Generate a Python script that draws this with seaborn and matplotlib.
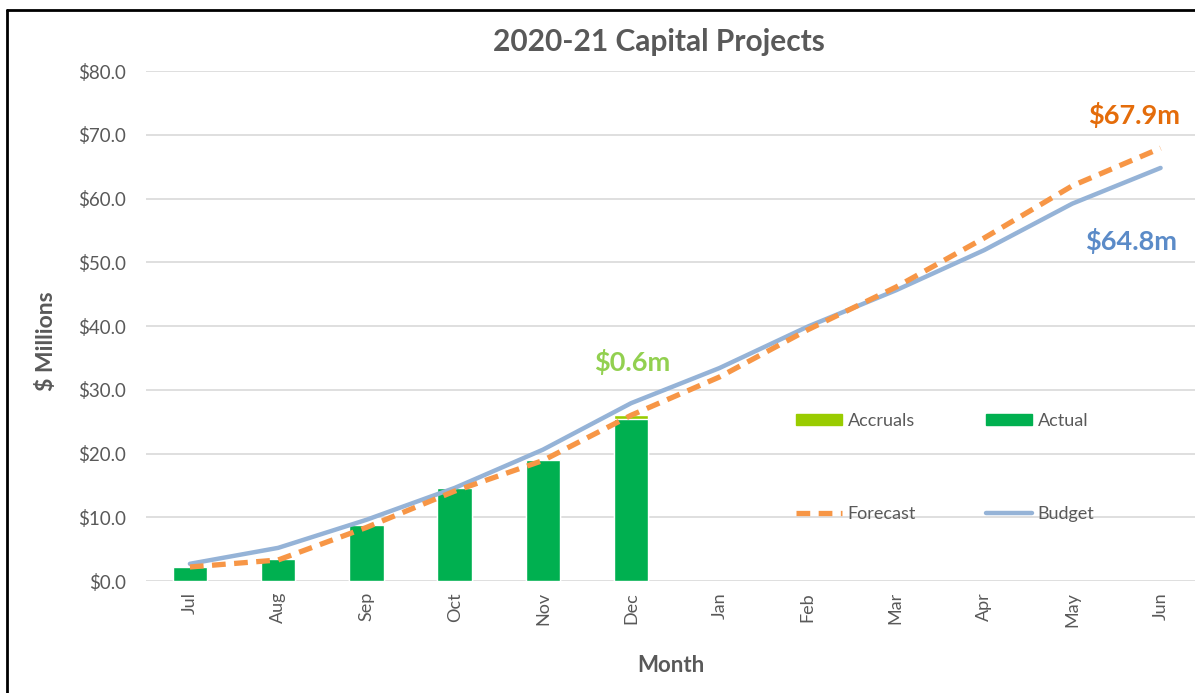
import numpy as np
import pandas as pd
import seaborn as sns
import matplotlib.pyplot as plt
from matplotlib.lines import Line2D
from matplotlib.patches import Patch
from matplotlib.ticker import FuncFormatter

# datos
meses = ['Jul', 'Aug', 'Sep', 'Oct', 'Nov', 'Dec', 'Jan', 'Feb', 'Mar', 'Apr', 'May', 'Jun']
meses_real = ['Jul', 'Aug', 'Sep', 'Oct', 'Nov', 'Dec']
actual = [2.2, 3.5, 8.8, 14.6, 19.0, 25.4]
accruals = [0.0, 0.0, 0.0, 0.0, 0.0, 0.6]
forecast = [2.2, 3.3, 8.4, 14.1, 18.9, 26.0, 32.0, 39.4, 46.1, 53.8, 62.0, 67.9]
budget = [2.7, 5.2, 9.6, 14.6, 20.6, 27.9, 33.4, 39.9, 45.6, 51.9, 59.2, 64.8]

gris = '#595959'
verde = '#00B050'
verde_acc = '#99CC00'
naranja = '#F79646'
azul = '#95B3D7'

sns.set_style("white")
plt.rcParams['font.family'] = ['Lato', 'DejaVu Sans']

df_real = pd.DataFrame({'Mes': meses_real, 'Actual': actual,
                        'Total': np.array(actual) + np.array(accruals)})
df_lineas = pd.DataFrame({'pos': np.arange(len(meses)), 'Forecast': forecast, 'Budget': budget})

fig = plt.figure(figsize=(11.95, 6.93), dpi=100)
ax = fig.add_axes([0.122, 0.1616, 0.878, 0.7359])

# barras apiladas: total (accruals arriba) y luego actual encima
sns.barplot(data=df_real, x='Mes', y='Total', order=meses, color=verde_acc,
            width=0.39, saturation=1, ax=ax)
sns.barplot(data=df_real, x='Mes', y='Actual', order=meses, color=verde,
            width=0.39, saturation=1, ax=ax)

sns.lineplot(data=df_lineas, x='pos', y='Budget', color=azul, linewidth=3.2, ax=ax)
sns.lineplot(data=df_lineas, x='pos', y='Forecast', color=naranja, linewidth=3.8,
             dashes=False, ax=ax)
ax.lines[-1].set_linestyle((0, (2.6, 1.6)))

ax.set_ylim(0, 80)
ax.set_xlim(-0.5, 11.39)
ax.set_yticks(range(0, 81, 10))
ax.yaxis.set_major_formatter(FuncFormatter(lambda v, p: f'${v:.1f}'))
ax.grid(axis='y', color='#D9D9D9', linewidth=1.2)
ax.set_axisbelow(True)
for s in ax.spines.values():
    s.set_visible(False)
ax.tick_params(axis='y', length=0, labelsize=13.5, labelcolor=gris, pad=14)
ax.tick_params(axis='x', length=0, labelsize=13, labelcolor=gris, pad=8)
ax.set_xticks(range(len(meses)))
ax.set_xticklabels(meses, rotation=90)

ax.set_xlabel('Month', fontsize=16, fontweight='bold', color=gris, labelpad=20)
ax.set_ylabel('$ Millions', fontsize=16.5, fontweight='bold', color=gris)
ax.yaxis.set_label_coords(-0.085, 0.47)
fig.text(0.551, 0.939, '2020-21 Capital Projects', ha='center', va='center',
         fontsize=21.5, fontweight='bold', color=gris)

# etiquetas de valores
ax.annotate('$67.9m', xy=(11, forecast[-1]), xytext=(-19.4, 23.8), textcoords='offset points',
            ha='center', va='center', fontsize=19.5, fontweight='bold', color='#E46C0A')
ax.annotate('$64.8m', xy=(11, budget[-1]), xytext=(-21.6, -52.6), textcoords='offset points',
            ha='center', va='center', fontsize=19.5, fontweight='bold', color='#5B8BC8')
ax.annotate('$0.6m', xy=(5, actual[-1] + accruals[-1]), xytext=(0.7, 38), textcoords='offset points',
            ha='center', va='center', fontsize=19.5, fontweight='bold', color='#92D050')

handles = [Patch(color=verde_acc), Line2D([], [], color=naranja, lw=3.8, ls=(0, (2.6, 1.6))),
           Patch(color=verde), Line2D([], [], color=azul, lw=3.2)]
labels = ['Accruals', 'Forecast', 'Actual', 'Budget']
fig.legend(handles, labels, ncol=2, loc='center', bbox_to_anchor=(0.791, 0.3254),
           frameon=False, fontsize=13, labelcolor=gris, handlelength=2.55,
           handleheight=0.6, handletextpad=0.3, labelspacing=4.3, columnspacing=3.9)

# marco del grafico
fig.add_artist(Line2D([0.006, 0.006], [0, 0.986], color='black', lw=2, transform=fig.transFigure))
fig.add_artist(Line2D([0.006, 1.0], [0.986, 0.986], color='black', lw=2, transform=fig.transFigure))

fig.savefig('out.png', dpi=100)
